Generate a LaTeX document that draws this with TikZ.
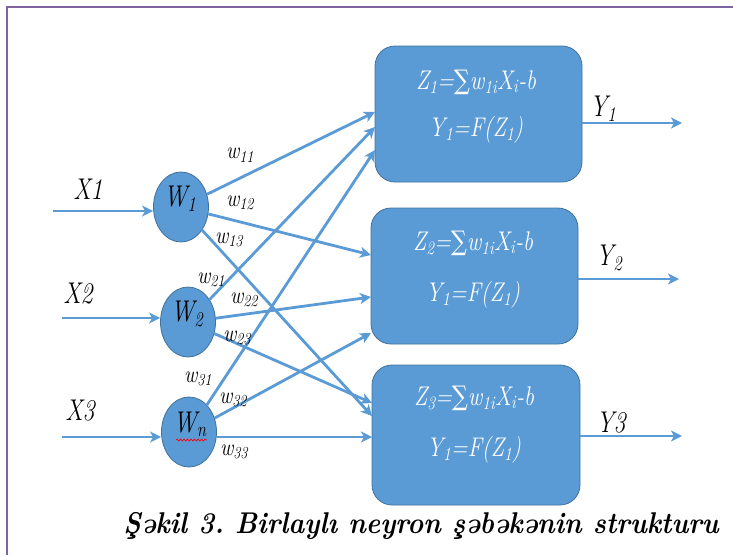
\documentclass[tikz,border=0pt]{standalone}
\usepackage{fontspec}
\setmainfont{Latin Modern Roman}
\newfontfamily\symf{DejaVu Serif}
\newcommand{\sumsym}{{\symf\upshape ∑}}
\usetikzlibrary{arrows.meta,shapes.geometric,decorations.pathmorphing}
\definecolor{nblue}{HTML}{5B9BD5}
\definecolor{nedge}{HTML}{41719C}
\definecolor{framec}{HTML}{8064A2}
\begin{document}
\frenchspacing
\begin{tikzpicture}[x=1pt,y=-1pt,
  conn/.style={draw=nblue, line width=2.8pt, -{Stealth[length=11pt,width=11pt,inset=3pt]}},
  box/.style={draw=nedge, line width=0.8pt, fill=nblue, rounded corners=20pt, inner sep=0pt},
  neuron/.style={ellipse, draw=nedge, line width=0.8pt, fill=nblue, minimum width=55pt, minimum height=70pt, inner sep=0pt},
  lbl/.style={font=\fontsize{30}{30}\selectfont\itshape, xscale=0.8, transform shape, inner sep=0pt},
  wl/.style={font=\fontsize{24}{24}\selectfont\itshape, xscale=0.85, transform shape, inner sep=0pt},
  btx/.style={font=\fontsize{27}{27}\selectfont\itshape, text=white, xscale=0.82, transform shape, inner sep=0pt},
  captx/.style={font=\fontsize{30}{30}\selectfont\bfseries\itshape, xscale=0.9, transform shape, inner sep=0pt}
]
\useasboundingbox (0,0) rectangle (733,555);
\draw[framec, line width=1.5pt] (7,555) -- (7,7) -- (733,7);

% boxes
\node[box, minimum width=207pt, minimum height=136pt] (b1) at (478.5,114) {};
\node[box, minimum width=207pt, minimum height=136pt] (b2) at (474.5,276) {};
\node[box, minimum width=208pt, minimum height=140pt] (b3) at (476,435) {};

\node[btx] (z1) at (476,82) {Z\textsubscript{1}=\sumsym w\textsubscript{1i}X\textsubscript{i}-b};
\node[btx] (f1) at (476,130) {Y\textsubscript{1}=F(Z\textsubscript{1})};
\node[btx] (z2) at (473,243) {Z\textsubscript{2}=\sumsym w\textsubscript{1i}X\textsubscript{i}-b};
\node[btx] (f2) at (473,295) {Y\textsubscript{1}=F(Z\textsubscript{1})};
\node[btx] (z3) at (474,398) {Z\textsubscript{3}=\sumsym w\textsubscript{1i}X\textsubscript{i}-b};
\node[btx] (f3) at (474,450) {Y\textsubscript{1}=F(Z\textsubscript{1})};

% neurons
\node[neuron] (w1) at (181,207) {};
\node[neuron] (w2) at (188,322) {};
\node[neuron] (wn) at (189,432) {};
\node[lbl] (w1t) at (180,199) {W\textsubscript{1}};
\node[lbl] (w2t) at (187,314) {W\textsubscript{2}};
\node[lbl] (wnt) at (190,424) {W\textsubscript{n}};
\draw[red, line width=0.7pt, decoration={snake, amplitude=1pt, segment length=3.5pt}, decorate] (176,440) -- (207,440);

% inputs
\coordinate (x1s) at (53,211);
\coordinate (x2s) at (62,318);
\coordinate (x3s) at (62,437);
\draw[conn] (x1s) -- (x1s -| w1.west);
\draw[conn] (x2s) -- (x2s -| w2.west);
\draw[conn] (x3s) -- (x3s -| wn.west);
\node[lbl] (x1l) at (88,189) {X1};
\node[lbl] (x2l) at (78,294) {X2};
\node[lbl] (x3l) at (80,411) {X3};

% targets on boxes
\coordinate (t11) at (375,112);
\coordinate (t21) at (375,127);
\coordinate (t31) at (375,150);
\coordinate (t12) at (371,255);
\coordinate (t22) at (371,297);
\coordinate (t32) at (371,333);
\coordinate (t23) at (372,403);
\coordinate (t13) at (372,416);
\coordinate (t33) at (372,437);

\draw[conn] (w1) -- (t11);
\draw[conn] (w1) -- (t12);
\draw[conn] (w1) -- (t13);
\draw[conn] (w2) -- (t21);
\draw[conn] (w2) -- (t22);
\draw[conn] (w2) -- (t23);
\draw[conn] (wn) -- (t31);
\draw[conn] (wn) -- (t32);
\draw[conn] (wn.east |- t33) -- (t33);

% weight labels
\node[wl] (l11) at (240,155) {w\textsubscript{11}};
\node[wl] (l12) at (240,203) {w\textsubscript{12}};
\node[wl] (l13) at (229,240) {w\textsubscript{13}};
\node[wl] (l21) at (211,280) {w\textsubscript{21}};
\node[wl] (l22) at (244,300) {w\textsubscript{22}};
\node[wl] (l23) at (237,338) {w\textsubscript{23}};
\node[wl] (l31) at (198,379) {w\textsubscript{31}};
\node[wl] (l32) at (233,400) {w\textsubscript{32}};
\node[wl] (l33) at (234,452) {w\textsubscript{33}};

% outputs
\coordinate (y1e) at (682,123);
\coordinate (y2e) at (679,279);
\coordinate (y3e) at (682,436);
\draw[conn] (b1.east |- y1e) -- (y1e);
\draw[conn] (b2.east |- y2e) -- (y2e);
\draw[conn] (b3.east |- y3e) -- (y3e);
\node[lbl] (y1l) at (603,109) {Y\textsubscript{1}};
\node[lbl] (y2l) at (609,258) {Y\textsubscript{2}};
\node[lbl] (y3l) at (611,423) {Y3};

% caption
\node[captx] (cap) at (421,526) {Şəkil 3. Birlaylı neyron şəbəkənin strukturu};
\end{tikzpicture}
\end{document}
